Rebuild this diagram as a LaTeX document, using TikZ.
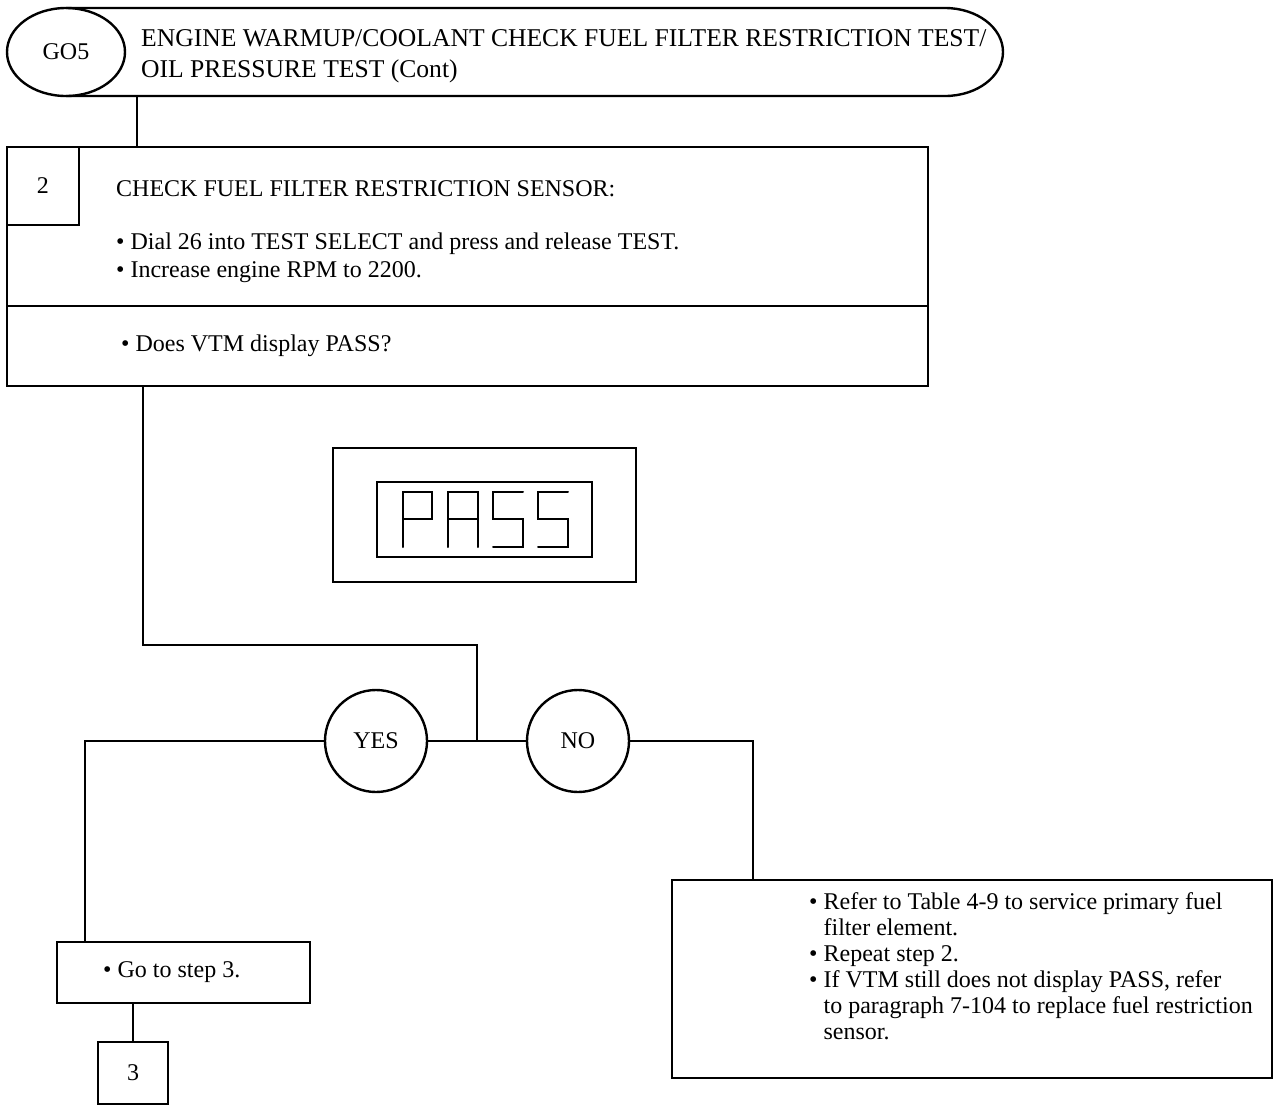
\documentclass[tikz,border=0pt]{standalone}
\usepackage{fontspec}
\setmainfont{Liberation Serif}
\usetikzlibrary{positioning,shapes.geometric}

\begin{document}
\begin{tikzpicture}[
  x=0.5pt, y=-0.5pt,
  line width=1.2pt,
  every node/.style={font=\fontsize{12pt}{14pt}\selectfont},
  box/.style={draw, rectangle, inner sep=0pt, outer sep=0pt, anchor=north west},
  txt/.style={inner sep=0pt, align=left},
  ring/.style={draw, circle, minimum size=51pt, inner sep=0pt},
  seg/.style={line width=1pt, line cap=round}]
  \useasboundingbox (0,0) rectangle (1287,1109);

  % header
  \node[draw, ellipse, minimum width=59pt, minimum height=44pt, inner sep=0pt, outer sep=0pt] (go5) at (66,52) {GO5};
  \draw (go5.north) -- (945,8) arc[start angle=90, end angle=-90, x radius=29pt, y radius=22pt] -- (go5.south);
  \node[txt, anchor=north west, font=\fontsize{12.8pt}{15.5pt}\selectfont] (title) at (140,28)
    {ENGINE WARMUP/COOLANT CHECK FUEL FILTER RESTRICTION TEST/\\OIL PRESSURE TEST (Cont)};

  % step 2
  \node[box, minimum width=460.5pt, minimum height=79.5pt] (chk) at (7,147) {};
  \node[box, minimum width=36pt, minimum height=39pt] (num2) at (7,147) {2};
  \node[txt, anchor=north west] (chktxt) at (115,179)
    {CHECK FUEL FILTER RESTRICTION SENSOR:\\[12.5pt]
     \textbullet\ Dial 26 into TEST SELECT and press and release TEST.\\
     \textbullet\ Increase engine RPM to 2200.};
  \node[box, minimum width=460.5pt, minimum height=40pt] (ask) at (chk.south west) {};
  \node[txt, anchor=west] (asktxt) at (120,346) {\textbullet\ Does VTM display PASS?};
  \coordinate (hdrop) at (137,96);
  \draw (hdrop) -- (hdrop |- chk.north);

  % display
  \node[draw, minimum width=151.5pt, minimum height=67pt, inner sep=0pt] (disp) at (484.5,515) {};
  \node[draw, minimum width=107.5pt, minimum height=37.5pt, inner sep=0pt] (lcd) at (484.5,519.5) {};
  \draw[seg] (403,547) -- (403,492) -- (432,492) -- (432,519) -- (403,519);
  \draw[seg] (448,547) -- (448,492) -- (478,492) -- (478,547) (448,519) -- (478,519);
  \foreach \sx in {493,538}
    \draw[seg] (\sx+30,492) -- (\sx,492) -- (\sx,519) -- (\sx+30,519) -- (\sx+30,547) -- (\sx,547);

  % decision
  \node[ring] (yes) at (376,741) {YES};
  \node[ring] (no) at (578,741) {NO};
  \coordinate (split) at (477,741);
  \coordinate (elbow) at (143,645);
  \draw (ask.south -| elbow) -- (elbow) -| (split);
  \draw (yes) -- (no);

  % yes branch
  \node[box, minimum width=126.5pt, minimum height=30.5pt] (go) at (57,942) {};
  \node[txt, anchor=west] (gotxt) at (102,972) {\textbullet\ Go to step 3.};
  \node[draw, minimum width=35pt, minimum height=31pt, inner sep=0pt] (num3) at (133,1073) {3};
  \coordinate (ydrop) at (85,741);
  \draw (yes) -- (ydrop) -- (ydrop |- go.north);
  \draw (go.south -| num3) -- (num3);

  % no branch
  \node[box, minimum width=300pt, minimum height=99pt] (fix) at (672,880) {};
  \node[txt, anchor=north west, font=\fontsize{12pt}{13pt}\selectfont] (fixtxt) at (808,891)
    {\textbullet\ Refer to Table 4-9 to service primary fuel\\
     \phantom{\textbullet\ }filter element.\\
     \textbullet\ Repeat step 2.\\
     \textbullet\ If VTM still does not display PASS, refer\\
     \phantom{\textbullet\ }to paragraph 7-104 to replace fuel restriction\\
     \phantom{\textbullet\ }sensor.};
  \coordinate (ndrop) at (753,741);
  \draw (no) -- (ndrop) -- (ndrop |- fix.north);
\end{tikzpicture}
\end{document}
